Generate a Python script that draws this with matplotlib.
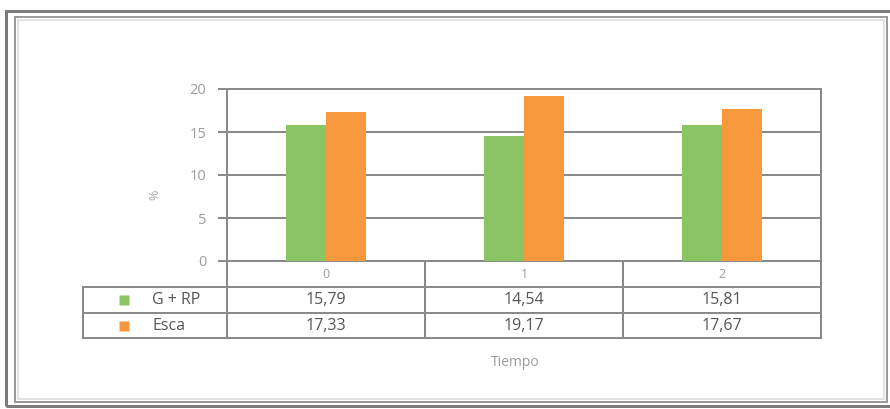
import matplotlib
matplotlib.use("Agg")
import matplotlib.pyplot as plt
import matplotlib.transforms as transforms
from matplotlib.patches import Rectangle
import numpy as np

plt.rcParams['font.family'] = ['Open Sans', 'DejaVu Sans']

# data
tiempos = ['0', '1', '2']
series = ['G + RP', 'Esca']
g_rp = [15.79, 14.54, 15.81]
esca = [17.33, 19.17, 17.67]
colores = ['#8bc462', '#f7983c']
y_ticks = [0, 5, 10, 15, 20]

W, H = 890, 409
fig = plt.figure(figsize=(W / 100, H / 100), dpi=100)


def fx(px):
    return px / W


def fy(py):
    return 1 - py / H


def px2pt(px):
    return px * 72 / 100


# double frame around the whole figure
for (x0, y0, x1, y1, lw, c) in [(6, 10.5, 896, 406, 3, '#7c7c7c'),
                                 (15, 17, 887, 402, 2, '#9a9a9a'),
                                 (18, 20, 884, 399, 2, '#e2e2e2')]:
    fig.patches.append(Rectangle((fx(x0), fy(y1)), fx(x1) - fx(x0), fy(y0) - fy(y1),
                                 transform=fig.transFigure, fill=False,
                                 lw=px2pt(lw), ec=c, zorder=0))

left, right, top, bottom = 227, 821, 89, 261
ax = fig.add_axes([fx(left), fy(bottom), fx(right) - fx(left), (bottom - top) / H])

grid_c = '#8a8a8a'
glw = px2pt(2)
x = np.arange(len(tiempos))
w = 0.2
ax.bar(x - w / 2, g_rp, width=w, color=colores[0], zorder=3)
ax.bar(x + w / 2, esca, width=w, color=colores[1], zorder=3)

ax.set_xlim(-0.5, 2.5)
ax.set_ylim(0, 20)
ax.set_yticks(y_ticks)
ax.set_xticks([])
ax.yaxis.grid(True, color=grid_c, lw=glw)
ax.set_axisbelow(True)
for s in ax.spines.values():
    s.set_color(grid_c)
    s.set_linewidth(glw)
ax.tick_params(axis='y', length=px2pt(9), width=glw, color=grid_c,
               labelcolor='#9c9c9c', labelsize=10.5, pad=8.5)

# data table under the plot
trans = transforms.blended_transform_factory(ax.transData, ax.transAxes)
ph = bottom - top
rows_y = [0, -26 / ph, -52 / ph, -77 / ph]
col_w = (right - left) / 3
lab_left = -0.5 + (83 - left) / col_w
line_kw = dict(color=grid_c, lw=glw, transform=trans, clip_on=False,
               solid_capstyle='projecting')

for xc in [-0.5, 0.5, 1.5, 2.5]:
    ax.plot([xc, xc], [0, rows_y[-1]], **line_kw)
ax.plot([lab_left, lab_left], [rows_y[1], rows_y[-1]], **line_kw)
for yr in rows_y[1:]:
    ax.plot([lab_left, 2.5], [yr, yr], **line_kw)

for i, t in enumerate(tiempos):
    ax.text(i, (rows_y[0] + rows_y[1]) / 2, t, transform=trans, ha='center',
            va='center', fontsize=9, color='#9c9c9c')

for r, (nombre, vals) in enumerate(zip(series, [g_rp, esca])):
    yc = (rows_y[r + 1] + rows_y[r + 2]) / 2
    ax.plot([-0.5 + (124 - left) / col_w], [yc], marker='s', ms=px2pt(10),
            color=colores[r], mec='none', transform=trans, clip_on=False)
    ax.text(-0.5 + (152 - left) / col_w, yc, nombre, transform=trans,
            ha='left', va='center', fontsize=11.5, color='#555555')
    for i, v in enumerate(vals):
        ax.text(i, yc, f'{v:.2f}'.replace('.', ','), transform=trans,
                ha='center', va='center', fontsize=11.5, color='#555555')

fig.text(fx(155), fy(195), '%', rotation=90, ha='center', va='center',
         fontsize=9, color='#aaaaaa')
fig.text(fx(515), fy(362), 'Tiempo', ha='center', va='center',
         fontsize=10, color='#9c9c9c')

fig.savefig('out.png', dpi=100)
